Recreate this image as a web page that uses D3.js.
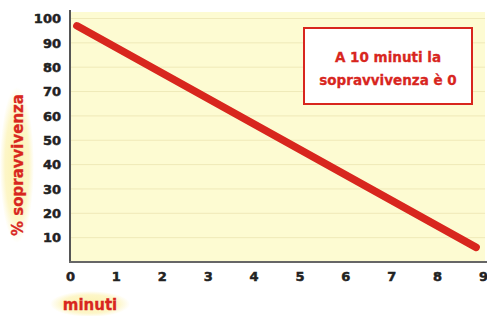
<!DOCTYPE html>
<html>
<head>
<meta charset="utf-8">
<script src="https://cdn.jsdelivr.net/npm/d3@7"></script>
<style>
  body { margin: 0; background: #fff; }
  svg { display: block; }
  .tick text { font-family: 'DejaVu Sans'; font-weight: 700; font-size: 13px; fill: #222; stroke: #222; stroke-width: 0.5px; }
  .lbl { font-family: 'DejaVu Sans'; font-weight: 700; fill: #d8261e; stroke: #d8261e; stroke-width: 0.3px; }
</style>
</head>
<body>
<div id="chart"></div>
<script>
const xTicks = [0, 1, 2, 3, 4, 5, 6, 7, 8, 9];
const yTicks = [10, 20, 30, 40, 50, 60, 70, 80, 90, 100];
const minutes = [0.15, 8.85];
const survival = [97, 6];
const note = ["A 10 minuti la", "sopravvivenza è 0"];

const width = 487, height = 316;
const plotLeft = 70, plotRight = 485, plotTop = 12, plotBottom = 262;

const x = d3.scaleLinear().domain([0, 9]).range([plotLeft, 483]);
const y = d3.scaleLinear().domain([0, 100]).range([plotBottom, 18.5]);

const svg = d3.select("#chart").append("svg").attr("width", width).attr("height", height);

// glow behind axis titles
const defs = svg.append("defs");
const grad = defs.append("radialGradient").attr("id", "glow");
grad.append("stop").attr("offset", "0%").attr("stop-color", "#fcf3b0");
grad.append("stop").attr("offset", "70%").attr("stop-color", "#fdf6c8");
grad.append("stop").attr("offset", "100%").attr("stop-color", "#ffffff");

svg.append("ellipse").attr("cx", 17).attr("cy", 165).attr("rx", 17).attr("ry", 78).attr("fill", "url(#glow)");
svg.append("ellipse").attr("cx", 90).attr("cy", 304).attr("rx", 40).attr("ry", 13).attr("fill", "url(#glow)");

// plot background
svg.append("rect").attr("x", plotLeft).attr("y", plotTop).attr("width", plotRight - plotLeft).attr("height", plotBottom - plotTop).attr("fill", "#fdfbd2");

// gridlines
svg.append("g").selectAll("line").data(yTicks).join("line")
    .attr("x1", plotLeft).attr("x2", plotRight)
    .attr("y1", d => y(d)).attr("y2", d => y(d))
    .attr("stroke", "#efe9b8").attr("stroke-width", 1);

// axes
const yAxis = svg.append("g").attr("transform", `translate(${plotLeft},0)`)
    .call(d3.axisLeft(y).tickValues(yTicks).tickSize(0).tickPadding(9));
yAxis.select(".domain").remove();
svg.append("line").attr("x1", plotLeft).attr("x2", plotLeft).attr("y1", 10).attr("y2", plotBottom + 1)
    .attr("stroke", "#555").attr("stroke-width", 2);

const xAxis = svg.append("g").attr("transform", `translate(0,${plotBottom})`)
    .call(d3.axisBottom(x).tickValues(xTicks).tickSize(0).tickPadding(10));
xAxis.select(".domain").remove();
svg.append("line").attr("x1", plotLeft - 1).attr("x2", 487).attr("y1", plotBottom).attr("y2", plotBottom)
    .attr("stroke", "#666").attr("stroke-width", 2);

// data line
const line = d3.line().x(d => x(d[0])).y(d => y(d[1]));
svg.append("path")
    .datum(d3.zip(minutes, survival))
    .attr("d", line)
    .attr("fill", "none")
    .attr("stroke", "#d8261e")
    .attr("stroke-width", 7.5)
    .attr("stroke-linecap", "round");

// annotation
svg.append("rect").attr("x", 304).attr("y", 28).attr("width", 168).attr("height", 76)
    .attr("fill", "#fff").attr("stroke", "#d8261e").attr("stroke-width", 2);
svg.append("g").selectAll("text").data(note).join("text")
    .attr("class", "lbl")
    .attr("x", 388).attr("y", (d, i) => 62 + i * 23)
    .attr("text-anchor", "middle")
    .attr("font-size", 13.5)
    .text(d => d);

// axis titles
svg.append("text").attr("class", "lbl")
    .attr("transform", "translate(23,165) rotate(-90)")
    .attr("text-anchor", "middle").attr("font-size", 15)
    .text("% sopravvivenza");
svg.append("text").attr("class", "lbl")
    .attr("x", 90).attr("y", 310)
    .attr("text-anchor", "middle").attr("font-size", 15)
    .text("minuti");
</script>
</body>
</html>
